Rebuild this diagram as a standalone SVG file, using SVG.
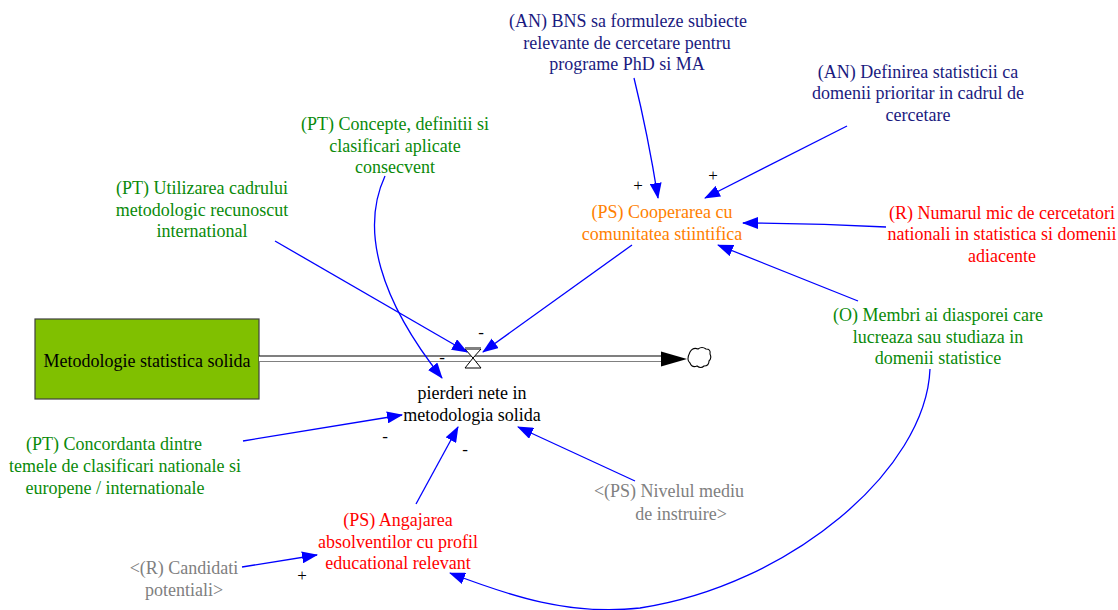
<svg xmlns="http://www.w3.org/2000/svg" width="1118" height="610" viewBox="0 0 1118 610">
<defs>
<marker id="ah" viewBox="0 0 16 12" refX="15" refY="6" markerWidth="16" markerHeight="12" markerUnits="userSpaceOnUse" orient="auto">
<path d="M0,0 L16,6 L0,12 Z" fill="#0000ff"/>
</marker>
</defs>
<rect width="1118" height="610" fill="#fff"/>

<g id="stock">
<rect x="35" y="319" width="224" height="80" fill="#80c000" stroke="#404040" stroke-width="1.2"/>
<text x="147" y="367" fill="#000" font-family="Liberation Serif" font-size="18" text-anchor="middle">Metodologie statistica solida</text>
</g>

<g id="flow">
<rect x="259" y="356" width="404" height="5" fill="#fff"/>
<line x1="259" y1="356" x2="663" y2="356" stroke="#000" stroke-width="1.2"/>
<line x1="259" y1="361.5" x2="663" y2="361.5" stroke="#808080" stroke-width="1.2"/>
<path d="M661,351.5 L687,359 L661,366.5 Z" fill="#000"/>
<path d="M473,358 L465,349 L481,349 Z M473,358 L465,368 L481,368 Z" fill="#fff" stroke="#000" stroke-width="1"/>
<line x1="465" y1="348" x2="481" y2="348" stroke="#808080" stroke-width="2"/>
</g>

<g id="cloud">
<path d="M690,352 q3,-5 8,-3 q4,-3 8,0 q5,0 4,5 q2,4 -1,7 q0,5 -5,5 q-3,3 -7,0 q-5,2 -7,-3 q-4,-3 0,-11 z" fill="#fff" stroke="#000" stroke-width="1.1"/>
</g>

<g id="aux-pierderi" fill="#000">
<text x="472" y="399" font-family="Liberation Serif" font-size="18" text-anchor="middle">pierderi nete in</text>
<text x="472" y="421" font-family="Liberation Serif" font-size="18" text-anchor="middle">metodologia solida</text>
</g>

<g id="an-bns" fill="#1a1a80">
<text x="628" y="27" font-family="Liberation Serif" font-size="18" text-anchor="middle">(AN) BNS sa formuleze subiecte</text>
<text x="627" y="49" font-family="Liberation Serif" font-size="18" text-anchor="middle">relevante de cercetare pentru</text>
<text x="627" y="70" font-family="Liberation Serif" font-size="18" text-anchor="middle">programe PhD si MA</text>
</g>

<g id="an-definirea" fill="#1a1a80">
<text x="918" y="78" font-family="Liberation Serif" font-size="18" text-anchor="middle">(AN) Definirea statisticii ca</text>
<text x="918" y="99" font-family="Liberation Serif" font-size="18" text-anchor="middle">domenii prioritar in cadrul de</text>
<text x="918" y="121" font-family="Liberation Serif" font-size="18" text-anchor="middle">cercetare</text>
</g>

<g id="pt-concepte" fill="#0a8a0a">
<text x="395" y="130" font-family="Liberation Serif" font-size="18" text-anchor="middle">(PT) Concepte, definitii si</text>
<text x="395" y="152" font-family="Liberation Serif" font-size="18" text-anchor="middle">clasificari aplicate</text>
<text x="395" y="173" font-family="Liberation Serif" font-size="18" text-anchor="middle">consecvent</text>
</g>

<g id="pt-utilizarea" fill="#0a8a0a">
<text x="202" y="194" font-family="Liberation Serif" font-size="18" text-anchor="middle">(PT) Utilizarea cadrului</text>
<text x="202" y="216" font-family="Liberation Serif" font-size="18" text-anchor="middle">metodologic recunoscut</text>
<text x="202" y="237" font-family="Liberation Serif" font-size="18" text-anchor="middle">international</text>
</g>

<g id="ps-cooperarea" fill="#ff8000">
<text x="662" y="218" font-family="Liberation Serif" font-size="18" text-anchor="middle">(PS) Cooperarea cu</text>
<text x="662" y="240" font-family="Liberation Serif" font-size="18" text-anchor="middle">comunitatea stiintifica</text>
</g>

<g id="r-numarul" fill="#ff0000">
<text x="1002" y="219" font-family="Liberation Serif" font-size="18" text-anchor="middle">(R) Numarul mic de cercetatori</text>
<text x="1002" y="240" font-family="Liberation Serif" font-size="18" text-anchor="middle">nationali in statistica si domenii</text>
<text x="1002" y="262" font-family="Liberation Serif" font-size="18" text-anchor="middle">adiacente</text>
</g>

<g id="o-membri" fill="#0a8a0a">
<text x="938" y="321" font-family="Liberation Serif" font-size="18" text-anchor="middle">(O) Membri ai diasporei care</text>
<text x="938" y="343" font-family="Liberation Serif" font-size="18" text-anchor="middle">lucreaza sau studiaza in</text>
<text x="938" y="364" font-family="Liberation Serif" font-size="18" text-anchor="middle">domenii statistice</text>
</g>

<g id="pt-concordanta" fill="#0a8a0a">
<text x="114" y="450" font-family="Liberation Serif" font-size="18" text-anchor="middle">(PT) Concordanta dintre</text>
<text x="125" y="472" font-family="Liberation Serif" font-size="18" text-anchor="middle">temele de clasificari nationale si</text>
<text x="115" y="494" font-family="Liberation Serif" font-size="18" text-anchor="middle">europene / internationale</text>
</g>

<g id="ps-nivelul" fill="#808080">
<text x="669" y="497" font-family="Liberation Serif" font-size="18" text-anchor="middle">&lt;(PS) Nivelul mediu</text>
<text x="681" y="520" font-family="Liberation Serif" font-size="18" text-anchor="middle">de instruire&gt;</text>
</g>

<g id="ps-angajarea" fill="#ff0000">
<text x="398" y="526" font-family="Liberation Serif" font-size="18" text-anchor="middle">(PS) Angajarea</text>
<text x="398" y="548" font-family="Liberation Serif" font-size="18" text-anchor="middle">absolventilor cu profil</text>
<text x="398" y="569" font-family="Liberation Serif" font-size="18" text-anchor="middle">educational relevant</text>
</g>

<g id="r-candidati" fill="#808080">
<text x="184" y="574" font-family="Liberation Serif" font-size="18" text-anchor="middle">&lt;(R) Candidati</text>
<text x="184" y="596" font-family="Liberation Serif" font-size="18" text-anchor="middle">potentiali&gt;</text>
</g>

<g id="connectors" fill="none" stroke="#0000ff" stroke-width="1.3">
<path marker-end="url(#ah)" d="M634,78 Q648,135 658,198"/>
<path marker-end="url(#ah)" d="M847,126 L705,198"/>
<path marker-end="url(#ah)" d="M886,227 Q815,223 743,223"/>
<path marker-end="url(#ah)" d="M858,301 L718,245"/>
<path marker-end="url(#ah)" d="M632,245 L483,352"/>
<path marker-end="url(#ah)" d="M275,241 L467,352"/>
<path marker-end="url(#ah)" d="M385,176 C360,230 380,300 442,378"/>
<path marker-end="url(#ah)" d="M243,441 L402,415"/>
<path marker-end="url(#ah)" d="M416,504 L458,427"/>
<path marker-end="url(#ah)" d="M635,481 L518,427"/>
<path marker-end="url(#ah)" d="M242,567 L317,555"/>
<path marker-end="url(#ah)" d="M930,369 C926,470 790,585 640,608 C570,616 510,596 450,573"/>
</g>

<g id="polarities" fill="#000">
<text x="638" y="191" font-family="Liberation Serif" font-size="17" text-anchor="middle">+</text>
<text x="713" y="181" font-family="Liberation Serif" font-size="17" text-anchor="middle">+</text>
<text x="481" y="338" font-family="Liberation Serif" font-size="17" text-anchor="middle">-</text>
<text x="442" y="363" font-family="Liberation Serif" font-size="17" text-anchor="middle">-</text>
<text x="385" y="442" font-family="Liberation Serif" font-size="17" text-anchor="middle">-</text>
<text x="465" y="455" font-family="Liberation Serif" font-size="17" text-anchor="middle">-</text>
<text x="302" y="581" font-family="Liberation Serif" font-size="17" text-anchor="middle">+</text>
</g>
</svg>
